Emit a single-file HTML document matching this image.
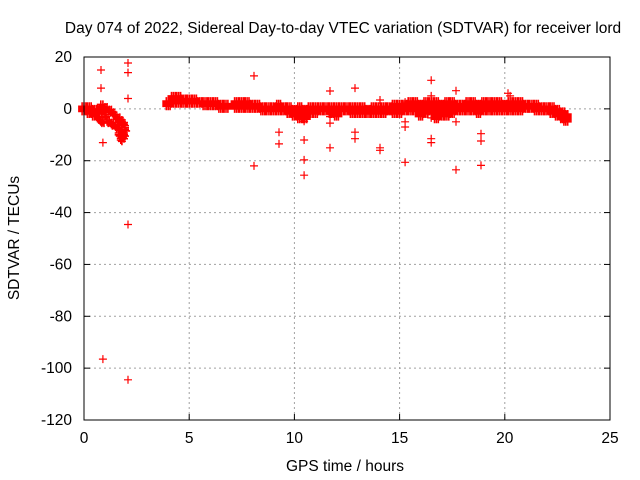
<!DOCTYPE html>
<html><head><meta charset="utf-8"><style>
body{margin:0;background:#fff}
svg{display:block;font-family:"Liberation Sans",sans-serif}
</style></head><body>
<svg id="chart" width="640" height="480" viewBox="0 0 640 480">
<rect width="640" height="480" fill="#fff"/>
<text x="343" y="33" font-size="15.5" text-anchor="middle">Day 074 of 2022, Sidereal Day-to-day VTEC variation (SDTVAR) for receiver lord</text>
<text x="345" y="471" font-size="15.5" text-anchor="middle">GPS time / hours</text>
<text x="19" y="238" font-size="15.5" text-anchor="middle" transform="rotate(-90 19 238)">SDTVAR / TECUs</text>
<g id="grid"></g>
<g id="axes"></g>
<g id="marks"></g>
<rect x="84" y="57" width="526" height="363" fill="none" stroke="#000" stroke-width="1"/>
</svg>
<script>
const xTicks=[0,5,10,15,20,25];
const yTicks=[20,0,-20,-40,-60,-80,-100,-120];
// band: hour, upper, lower
const bandHours=[0,0.25,0.5,0.75,4.0,4.25,4.5,4.75,5.0,5.25,5.5,5.75,6.0,6.25,6.5,6.75,7.25,7.5,7.75,8.0,8.25,8.5,8.75,9.0,9.25,9.5,9.75,10.0,10.25,10.5,10.75,11.0,11.25,11.5,11.75,12.0,12.25,12.5,12.75,13.0,13.25,13.5,13.75,14.0,14.25,14.5,14.75,15.0,15.25,15.5,15.75,16.0,16.25,16.5,16.75,17.0,17.25,17.5,17.75,18.0,18.25,18.5,18.75,19.0,19.25,19.5,19.75,20.0,20.25,20.5,20.75,21.0,21.25,21.5,21.75,22.0,22.25,22.5,22.75,22.9];
const bandUpper=[1,1,0,0,3,5,5,4,4,4,3,3,3,3,2,2,3,3,3,2,2,1,1,1,2,1,1,0,1,0,1,1,1,1,1,1,1,1,1,1,1,0,1,1,1,1,2,2,2,3,3,2,3,3,3,2,3,3,2,2,3,3,2,3,3,3,3,2,3,3,3,2,2,2,1,1,1,0,-1,-2];
const bandLower=[-1,-2,-3,-2,1,2,2,2,2,2,2,1,1,1,0,0,0,0,0,0,0,-1,-1,-1,-1,-1,-2,-3,-4,-4,-2,-2,-1,-1,-2,-3,-1,-1,-2,-2,-2,-2,-2,-2,-2,-1,-2,-2,-1,-1,-1,-3,-2,-1,-4,-3,-3,-2,-1,-1,-1,-1,-2,-1,-1,-1,-1,-1,-1,-1,-1,0,0,-1,-1,-1,-2,-3,-4,-5];
// loop cluster near hour 1-2
const loopHours=[0.8,0.9,1.0,1.1,1.2,1.3,1.4,1.5,1.6,1.7,1.8,1.9,1.0,1.1,1.2,1.3,1.4,1.5,1.6,1.7,1.8,1.9,1.75,1.85,0.6,0.7,0.8,0.9,1.95,1.65];
const loopValues=[1,1,0,0,-1,-1,-2,-3,-4,-4,-5,-6,-3,-5,-5,-6,-6,-7,-7,-8,-9,-10,-12,-11,-3,-4,-5,-5,-8,-10];
const outHours=[0.81,0.81,0.9,2.09,2.09,2.09,2.09,0.9,2.09,8.08,8.08,9.27,9.27,10.46,10.46,10.46,10.46,11.69,11.69,11.69,11.69,12.88,12.88,12.88,14.07,14.07,14.07,15.26,15.26,15.26,15.26,16.5,16.5,16.5,16.5,16.5,17.68,17.68,17.68,18.87,18.87,18.87,20.15,20.25];
const outValues=[15,8,-13,17.7,14,4,-44.6,-96.5,-104.5,12.7,-22,-9,-13.5,-4.8,-12,-19.7,-25.6,6.9,-3,-5.5,-15,8,-9,-11.5,3.4,-15,-16,2.6,-5,-7,-20.6,11,5,-3.5,-11.5,-13,7,-5,-23.5,-9.6,-12.4,-21.8,6,5];

const X0=84,X1=610,Y0=57,Y1=420;
const xs=h=>X0+(h-0)/(25-0)*(X1-X0);
const ys=v=>Y0+(20-v)/(140)*(Y1-Y0);
const NS='http://www.w3.org/2000/svg';
const grid=document.getElementById('grid'),axes=document.getElementById('axes'),marks=document.getElementById('marks');
function mk(tag,attrs,parent){const e=document.createElementNS(NS,tag);for(const k in attrs)e.setAttribute(k,attrs[k]);parent.appendChild(e);return e;}
xTicks.forEach(t=>{const x=xs(t);
 if(t>0&&t<25){const g=mk('line',{x1:x,x2:x,y1:Y0,y2:Y1,stroke:'#a0a0a0','stroke-dasharray':'2,3'},grid);
 
 }
 const a=mk('line',{x1:x,x2:x,y1:Y1,y2:Y1-6,stroke:'#000'},axes);
 
 
 const b=mk('line',{x1:x,x2:x,y1:Y0,y2:Y0+6,stroke:'#000'},axes);
 
 
 const l=mk('text',{x:x,y:443,'font-size':15.5,'text-anchor':'middle'},axes);l.textContent=t;
 
 
});
yTicks.forEach(t=>{const y=ys(t);
 if(t<20&&t>-120){const g=mk('line',{x1:X0,x2:X1,y1:y,y2:y,stroke:'#a0a0a0','stroke-dasharray':'2,3'},grid);
 
 }
 const a=mk('line',{x1:X0,x2:X0+6,y1:y,y2:y,stroke:'#000'},axes);
 
 
 const b=mk('line',{x1:X1,x2:X1-6,y1:y,y2:y,stroke:'#000'},axes);
 
 
 const l=mk('text',{x:72,y:y+5,'font-size':15.5,'text-anchor':'end'},axes);l.textContent=t;
 
 
});
let path='';
function plus(h,v){const x=xs(h),y=ys(v);path+=`M${(x-4).toFixed(1)} ${y.toFixed(1)}h8M${x.toFixed(1)} ${(y-4).toFixed(1)}v8`;}
bandHours.forEach((h,i)=>{for(let v=bandLower[i];v<=bandUpper[i];v+=0.5){plus(h-0.09,v);plus(h,v);plus(h+0.09,v);}});
loopHours.forEach((h,i)=>{plus(h,loopValues[i]);plus(h,loopValues[i]+0.7);plus(h+0.05,loopValues[i]-0.5);});
let pathOut='';
outHours.forEach((h,i)=>{const x=xs(h),y=ys(outValues[i]);pathOut+=`M${(x-4).toFixed(1)} ${y.toFixed(1)}h8M${x.toFixed(1)} ${(y-4).toFixed(1)}v8`;});
const p=mk('path',{d:path,stroke:'#ff0000','stroke-width':1.6,fill:'none'},marks);


const q=mk('path',{d:pathOut,stroke:'#ff0000','stroke-width':1.2,fill:'none'},marks);


</script>
</body></html>
